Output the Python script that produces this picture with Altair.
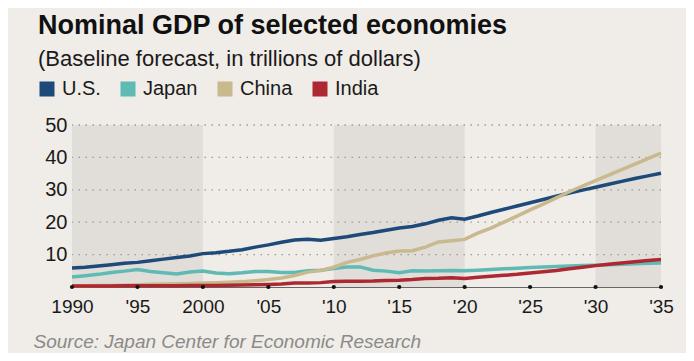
import altair as alt
import pandas as pd

years = list(range(1990, 2036))
us = [5.9, 6.1, 6.5, 6.9, 7.3, 7.6, 8.1, 8.6, 9.1, 9.6,
      10.3, 10.6, 11.0, 11.5, 12.3, 13.0, 13.8, 14.5, 14.7, 14.4,
      15.0, 15.5, 16.2, 16.8, 17.5, 18.2, 18.7, 19.5, 20.6, 21.4,
      20.9, 21.9, 23.0, 24.0, 25.0, 26.0, 27.0, 28.0, 29.0, 29.9,
      30.8, 31.7, 32.6, 33.5, 34.3, 35.1]
japan = [3.1, 3.5, 3.9, 4.5, 4.9, 5.4, 4.8, 4.4, 4.0, 4.6,
         4.9, 4.3, 4.1, 4.4, 4.8, 4.8, 4.5, 4.5, 5.0, 5.2,
         5.7, 6.2, 6.2, 5.2, 4.9, 4.4, 5.0, 4.9, 5.0, 5.1,
         5.0, 5.2, 5.4, 5.6, 5.8, 6.0, 6.15, 6.3, 6.45, 6.6,
         6.7, 6.85, 7.0, 7.15, 7.3, 7.4]
china = [0.4, 0.4, 0.5, 0.45, 0.56, 0.73, 0.86, 0.96, 1.03, 1.09,
         1.2, 1.34, 1.47, 1.66, 1.96, 2.29, 2.75, 3.55, 4.59, 5.1,
         6.1, 7.6, 8.5, 9.6, 10.5, 11.1, 11.2, 12.3, 13.9, 14.3,
         14.7, 16.6, 18.2, 20.0, 21.9, 23.8, 25.6, 27.5, 29.4, 31.1,
         32.8, 34.5, 36.2, 37.9, 39.6, 41.3]
india = [0.3, 0.3, 0.3, 0.3, 0.35, 0.37, 0.39, 0.42, 0.42, 0.46,
         0.47, 0.49, 0.51, 0.6, 0.7, 0.8, 0.92, 1.2, 1.2, 1.35,
         1.7, 1.8, 1.8, 1.85, 2.0, 2.1, 2.3, 2.65, 2.7, 2.85,
         2.65, 3.0, 3.3, 3.6, 3.9, 4.3, 4.7, 5.1, 5.6, 6.1,
         6.6, 7.0, 7.4, 7.8, 8.2, 8.5]

countries = ["U.S.", "Japan", "China", "India"]
colors = ["#1d4a78", "#5fbab4", "#c8b98e", "#ad2830"]

band_start = [1990, 2010, 2030]
band_end = [2000, 2020, 2035]
tick_years = list(range(1990, 2036, 5))
grid_values = [10, 20, 30, 40, 50]

FONT = "Liberation Sans"

rows = []
for name, vals in zip(countries, [us, japan, china, india]):
    for y, v in zip(years, vals):
        rows.append({"year": y, "gdp": v, "country": name})
df = pd.DataFrame(rows)

bands_df = pd.DataFrame({"start": band_start, "end": band_end})
ticks_df = pd.DataFrame({"year": tick_years})
grid_df = pd.DataFrame({"v": grid_values})

xscale = alt.Scale(domain=[1990, 2035], nice=False, zero=False)
yscale = alt.Scale(domain=[0, 50], nice=False)
cscale = alt.Scale(domain=countries, range=colors)

bands = alt.Chart(bands_df).mark_rect(color="#e1ddd9").encode(
    x=alt.X("start:Q", scale=xscale),
    x2="end:Q",
    y=alt.datum(0, scale=yscale),
    y2=alt.datum(50),
)

grid = alt.Chart(grid_df).mark_rule(color="#9a9a9a", strokeDash=[1.5, 5.5], strokeWidth=1.3).encode(
    y=alt.Y("v:Q", scale=yscale)
)

label_expr = ("datum.value == 1990 || datum.value == 2000 ? '' + datum.value : "
              "\"'\" + substring('' + datum.value, 2)")

legend = alt.Legend(orient="none", legendX=-35, legendY=-46,
                    direction="horizontal", title=None,
                    symbolType="square", symbolSize=225,
                    symbolOpacity=1, symbolStrokeWidth=0,
                    labelFont=FONT, labelFontSize=20,
                    labelColor="#1a1a1a", labelOffset=5,
                    columnPadding=17, padding=0)

# invisible filled-square layer (no rows pass the filter) that gives the legend its filled squares
keys = alt.Chart(df).mark_square(filled=True, size=225, opacity=1).encode(
    x=alt.X("year:Q", scale=xscale),
    y=alt.Y("gdp:Q", scale=yscale),
    color=alt.Color("country:N", scale=cscale, sort=countries, legend=legend),
).transform_filter("datum.gdp < 0")

lines = alt.Chart(df).mark_line(strokeWidth=3.5).encode(
    x=alt.X("year:Q", scale=xscale,
            axis=alt.Axis(values=tick_years, labelExpr=label_expr, ticks=False,
                          grid=False, domainColor="#666666", domainWidth=1,
                          labelFont=FONT, labelFontSize=19, labelColor="#1a1a1a",
                          labelPadding=10, labelFlush=False,
                          title="Source: Japan Center for Economic Research",
                          titleFont=FONT, titleFontSize=19, titleFontStyle="italic",
                          titleFontWeight="normal", titleColor="#8a8a8a",
                          titleAlign="left", titleAnchor="start", titleBaseline="alphabetic",
                          titleX=-39, titleY=60)),
    y=alt.Y("gdp:Q", scale=yscale,
            axis=alt.Axis(values=grid_values, ticks=False, domain=False, grid=False,
                          labelFont=FONT, labelFontSize=20, labelColor="#1a1a1a",
                          labelPadding=5, title=None)),
    color=alt.Color("country:N", scale=cscale, sort=countries, legend=legend),
    order=alt.Order("order_key:Q"),
).transform_calculate(
    order_key="indexof(['China','U.S.','Japan','India'], datum.country)"
)

dots = alt.Chart(ticks_df).mark_circle(color="#111111", size=18, opacity=1).encode(
    x=alt.X("year:Q", scale=xscale),
    y=alt.datum(0, scale=yscale),
)

chart = alt.layer(bands, grid, keys, lines, dots).properties(
    width=589,
    height=162,
    autosize=alt.AutoSizeParams(type="none"),
    padding={"left": 64, "top": 117, "right": 25, "bottom": 66},
    title=alt.TitleParams(
        text="Nominal GDP of selected economies",
        subtitle="(Baseline forecast, in trillions of dollars)",
        anchor="start", frame="group", dx=-34, offset=8,
        font=FONT, fontSize=27, fontWeight="bold", color="#111111",
        subtitleFont=FONT, subtitleFontSize=22, subtitleColor="#1a1a1a",
        subtitlePadding=9,
    ),
).configure(background="#f0ece7").configure_view(stroke=None)

chart.save("out.html", embed_options={"renderer": "svg", "actions": False})
